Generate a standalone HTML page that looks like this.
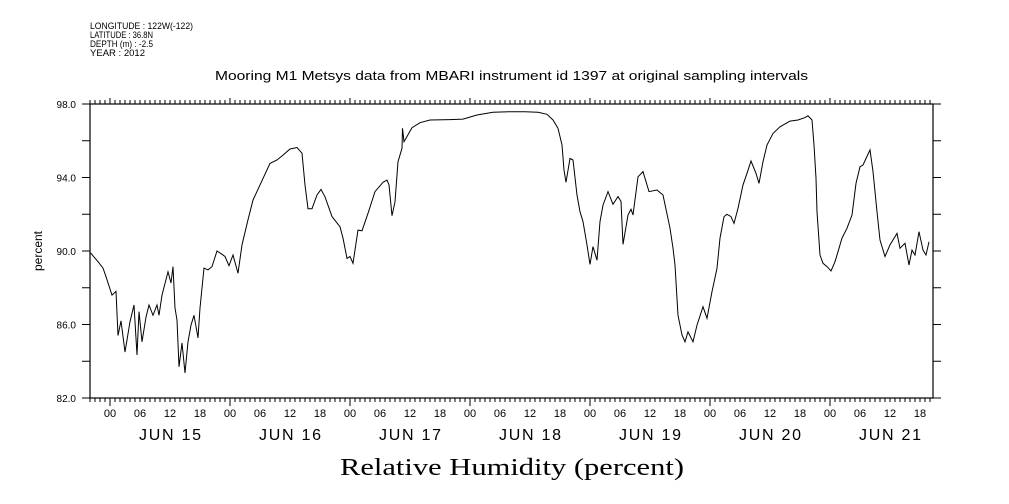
<!DOCTYPE html>
<html><head><meta charset="utf-8"><style>
body{margin:0;background:#fff}
svg{display:block;font-family:"Liberation Sans",sans-serif}
</style></head><body>
<svg id="chart" width="1009" height="504" viewBox="0 0 1009 504">
<g font-size="9" fill="#000">
<text x="90" y="29" textLength="103" lengthAdjust="spacingAndGlyphs">LONGITUDE : 122W(-122)</text>
<text x="90" y="38" textLength="63" lengthAdjust="spacingAndGlyphs">LATITUDE : 36.8N</text>
<text x="90" y="47" textLength="63" lengthAdjust="spacingAndGlyphs">DEPTH (m) : -2.5</text>
<text x="90" y="56" textLength="55" lengthAdjust="spacingAndGlyphs">YEAR : 2012</text>
</g>
<text x="215" y="80" font-size="13" textLength="593" lengthAdjust="spacingAndGlyphs">Mooring M1 Metsys data from MBARI instrument id 1397 at original sampling intervals</text>
<text transform="translate(42,251) rotate(-90)" font-size="12" text-anchor="middle">percent</text>
<text x="340" y="475" font-size="24" font-family="Liberation Serif,serif" textLength="344" lengthAdjust="spacingAndGlyphs">Relative Humidity (percent)</text>
<rect x="90" y="104" width="843" height="294" fill="none" stroke="#000" stroke-width="1.2"/>
<g id="axes"></g>
<path id="line" fill="none" stroke="#000" stroke-width="1"/>
</svg>
<script>
// hours since JUN 15 00:00
const hours=[-4,-3.8,-2.4,-1.4,-0.8,0.4,1.2,1.6,2.2,3,4,4.8,5.4,5.8,6.4,7.2,7.8,8.6,9.4,9.8,10.4,11.6,12.2,12.6,13,13.4,13.8,14.4,15,15.6,16.2,16.8,17.6,18,18.8,19.6,20.4,21.4,22.4,23,23.8,24.6,25.6,26.4,27.6,28.6,30,32,33.4,34.6,36,37.4,38.4,39,39.6,40.4,41.4,42.2,43,44.4,46,46.6,47.4,48,48.6,49.6,50.4,51.6,53,54.6,55.4,55.8,56.4,57,57.6,58.4,58.5,58.8,60.4,62,64,68,70.6,73.4,76.6,80,83,85.6,87.4,88.6,89.6,90.4,90.8,91.2,92,92.6,93.4,94,94.6,95.4,96,96.6,97.4,98,98.6,99.6,100.6,101.6,102.2,102.6,103.6,104.2,104.6,105.6,106.6,107.8,109.4,110.6,112,112.6,113,113.6,114.4,115,115.6,116.6,117.4,118.6,119.4,120.4,121.4,122,122.8,123.4,124.2,124.8,125.6,126.6,127.4,128.2,129.2,129.8,130.6,131.4,132.6,134,136,137.6,139,139.6,140.4,140.8,141.2,141.4,142,142.6,143.4,144.2,145,145.6,146.4,147.4,148.4,149.2,150,150.6,152,152.6,153.4,154,155,156,157.4,158,159,159.8,160.4,161,161.8,162.6,163.2,163.8];
const humidity=[89.9,89.87,89.42,89.07,88.6,87.6,87.8,85.4,86.2,84.5,86.15,87.06,84.34,86.7,85.06,86.4,87.06,86.5,87.06,86.5,87.6,88.87,88.26,89.15,86.9,86.24,83.7,85.0,83.36,85.06,85.97,86.5,85.27,86.9,89.07,88.97,89.15,90.0,89.82,89.7,89.2,89.78,88.79,90.33,91.7,92.77,93.6,94.77,94.95,95.22,95.55,95.63,95.32,93.6,92.3,92.3,93.05,93.35,92.95,91.87,91.32,90.7,89.6,89.7,89.33,91.14,91.1,92.05,93.23,93.74,93.86,93.6,91.92,92.68,94.86,95.59,96.68,95.95,96.71,96.98,97.13,97.15,97.18,97.4,97.55,97.58,97.58,97.55,97.44,97.13,96.68,95.77,94.4,93.74,95.04,94.95,93.05,92.14,91.6,90.33,89.27,90.24,89.5,91.6,92.5,93.23,92.54,92.96,92.7,90.36,91.96,92.27,91.96,94.04,94.32,93.23,93.32,93.05,91.24,90.15,89.24,86.5,85.43,85.06,85.6,85.06,85.97,86.97,86.34,87.79,89.06,90.7,91.87,92.0,91.87,91.5,92.32,93.6,94.23,94.9,94.23,93.68,94.86,95.77,96.4,96.76,97.07,97.13,97.26,97.36,97.13,95.77,93.96,92.14,89.78,89.33,89.15,88.91,89.42,89.96,90.7,91.24,91.96,93.68,94.59,94.68,95.5,94.32,92.14,90.6,89.7,90.33,90.96,90.15,90.42,89.24,90.05,89.78,91.05,90.05,89.78,90.5];
const yTicks=[82,86,90,94,98];
const dayLabels=["JUN 15","JUN 16","JUN 17","JUN 18","JUN 19","JUN 20","JUN 21"];
const hourLabels=["00","06","12","18"];

const X=h=>110+5*h;
const Y=v=>104+(98-v)*294/16;
const NS="http://www.w3.org/2000/svg";
const ax=document.getElementById('axes');
function mk(tag,attrs,txt){const e=document.createElementNS(NS,tag);for(const k in attrs)e.setAttribute(k,attrs[k]);if(txt!==undefined)e.textContent=txt;ax.appendChild(e);return e;}
let d="";
for(let h=-4;h<=164;h++){
  const x=X(h),major=((h%24)+24)%24===0;
  d+=`M${x},104V${major?98:100}M${x},398V${major?406:402}`;
}
for(let v=82;v<=98;v+=2){const y=Y(v);d+=`M82,${y}H90M933,${y}H941`;}
const tk=mk('path',{d:d,stroke:'#000','stroke-width':1,fill:'none'});


yTicks.forEach(v=>{
  const t=mk('text',{x:76,y:Y(v)+4,'font-size':10,'text-anchor':'end'},v.toFixed(1));
  
  
});
dayLabels.forEach((lab,i)=>{
  hourLabels.forEach((hl,j)=>{
    const h=i*24+j*6; if(X(h)>933)return;
    const t=mk('text',{x:X(h),y:417,'font-size':11,'text-anchor':'middle'},hl);
    
    
  });
  const t=mk('text',{x:X(i*24+12)-31,y:440,'font-size':16,textLength:62,lengthAdjust:'spacing'},lab);
  
  
});
document.getElementById('line').setAttribute('d',hours.map((h,i)=>(i?'L':'M')+X(h).toFixed(1)+','+Y(humidity[i]).toFixed(1)).join(''));
</script>
</body></html>
